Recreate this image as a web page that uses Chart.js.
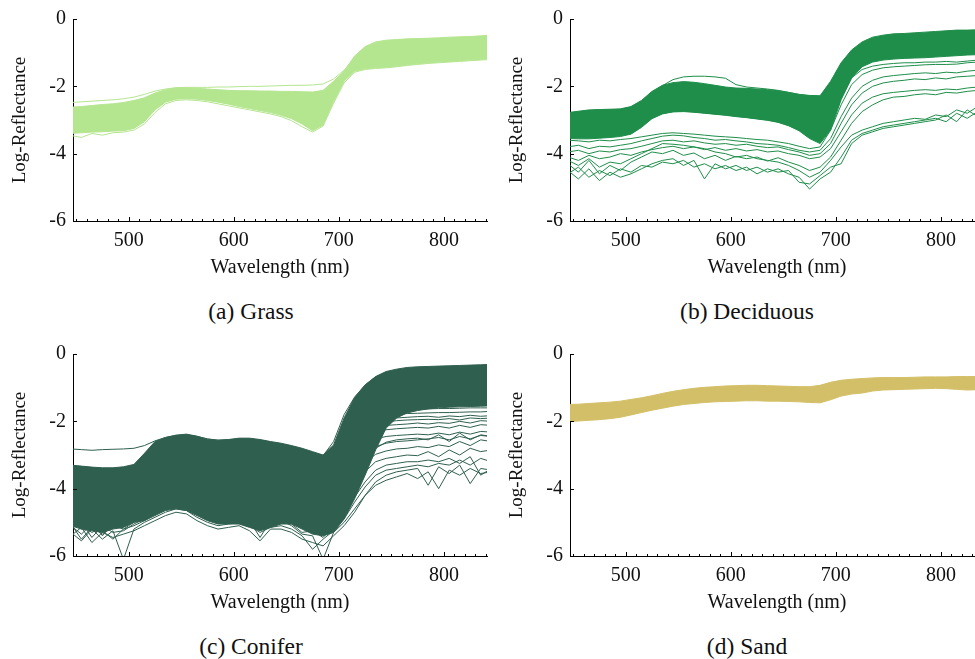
<!DOCTYPE html>
<html>
<head>
<meta charset="utf-8">
<title>Log-reflectance spectra</title>
<script src="https://cdn.jsdelivr.net/npm/chart.js@4.4.1/dist/chart.umd.min.js"></script>
<style>
  html, body { margin: 0; padding: 0; background: #fff; }
  body {
    position: relative; width: 975px; height: 659px; overflow: hidden;
    font-family: 'Liberation Serif', serif;
  }
  canvas { position: absolute; }
  .caption {
    position: absolute; width: 400px; text-align: center;
    font-size: 23.5px; line-height: 28px; color: #111;
  }
</style>
</head>
<body>
<canvas id="grass"     width="490" height="284" style="left:0;top:0"></canvas>
<canvas id="deciduous" width="490" height="284" style="left:497px;top:0"></canvas>
<canvas id="conifer"   width="490" height="284" style="left:0;top:335px"></canvas>
<canvas id="sand"      width="490" height="284" style="left:497px;top:335px"></canvas>

<div class="caption" style="left:51px;top:297px">(a) Grass</div>
<div class="caption" style="left:547px;top:297px">(b) Deciduous</div>
<div class="caption" style="left:51px;top:632px">(c) Conifer</div>
<div class="caption" style="left:547px;top:632px">(d) Sand</div>

<script>
// ━━━━━━━━━━━━━━━━━━━━━━━━━━━━━━━━━━━━━━━━━━━━━━━━━━━━━━━━━━━━━━━━━━━━━━━━
// AXES — wavelength range (nm) and log-reflectance range
// ━━━━━━━━━━━━━━━━━━━━━━━━━━━━━━━━━━━━━━━━━━━━━━━━━━━━━━━━━━━━━━━━━━━━━━━━
const X_MIN = 447, X_MAX = 841;
const X_TICKS = [500, 600, 700, 800];
const MINOR_STEP = 10;              // small inward ticks every 10 nm
const Y_TICKS = [0, -2, -4, -6];

// Sample wavelengths shared by every spectrum below
const WAVELENGTHS = [
  445, 455, 465, 475, 485, 495, 505, 515, 525, 535,
  545, 555, 565, 575, 585, 595, 605, 615, 625, 635,
  645, 655, 665, 675, 685, 695, 705, 715, 725, 735,
  745, 755, 765, 775, 785, 795, 805, 815, 825, 835,
  845
];

// ━━━━━━━━━━━━━━━━━━━━━━━━━━━━━━━━━━━━━━━━━━━━━━━━━━━━━━━━━━━━━━━━━━━━━━━━
// GRASS — dense band (upper / lower edge) plus two stray spectra
// ━━━━━━━━━━━━━━━━━━━━━━━━━━━━━━━━━━━━━━━━━━━━━━━━━━━━━━━━━━━━━━━━━━━━━━━━
const GRASS_UPPER = [
  -2.62, -2.60, -2.57, -2.54, -2.52, -2.48, -2.42, -2.34, -2.20, -2.10,
  -2.05, -2.04, -2.06, -2.08, -2.10, -2.12, -2.13, -2.13, -2.14, -2.14,
  -2.15, -2.15, -2.16, -2.17, -2.12, -1.85, -1.55, -1.10, -0.82, -0.68,
  -0.63, -0.61, -0.59, -0.58, -0.57, -0.56, -0.54, -0.53, -0.52, -0.50,
  -0.48
];
const GRASS_LOWER = [
  -3.40, -3.38, -3.36, -3.35, -3.33, -3.32, -3.25, -3.05, -2.70, -2.47,
  -2.38, -2.37, -2.38, -2.42, -2.47, -2.53, -2.60, -2.66, -2.72, -2.78,
  -2.86, -2.96, -3.12, -3.32, -3.15, -2.45, -1.85, -1.55, -1.48, -1.45,
  -1.43, -1.40, -1.36, -1.33, -1.30, -1.28, -1.26, -1.24, -1.22, -1.20,
  -1.18
];
const GRASS_HIGH = [
  -2.48, -2.46, -2.44, -2.42, -2.40, -2.37, -2.32, -2.24, -2.14, -2.08,
  -2.04, -2.03, -2.03, -2.03, -2.02, -2.02, -2.01, -2.00, -2.00, -1.99,
  -1.98, -1.97, -1.97, -1.96, -1.93, -1.78, -1.52, -1.15, -0.88, -0.74,
  -0.69, -0.66, -0.64, -0.63, -0.62, -0.61, -0.60, -0.59, -0.59, -0.58,
  -0.57
];
const GRASS_LOW = [
  -3.46, -3.52, -3.40, -3.45, -3.38, -3.36, -3.30, -3.12, -2.78, -2.52,
  -2.42, -2.40, -2.42, -2.46, -2.52, -2.58, -2.64, -2.70, -2.76, -2.82,
  -2.90, -3.02, -3.20, -3.36, -3.18, -2.50, -1.90, -1.58, -1.50, -1.47,
  -1.45, -1.42, -1.38, -1.35, -1.32, -1.30, -1.28, -1.26, -1.24, -1.22,
  -1.20
];

// ━━━━━━━━━━━━━━━━━━━━━━━━━━━━━━━━━━━━━━━━━━━━━━━━━━━━━━━━━━━━━━━━━━━━━━━━
// DECIDUOUS — main band plus the darker, noisier spectra below it
// ━━━━━━━━━━━━━━━━━━━━━━━━━━━━━━━━━━━━━━━━━━━━━━━━━━━━━━━━━━━━━━━━━━━━━━━━
const DEC_UPPER = [
  -2.78, -2.74, -2.70, -2.69, -2.68, -2.67, -2.60, -2.42, -2.15, -1.97,
  -1.89, -1.86, -1.88, -1.92, -1.97, -2.02, -2.05, -2.06, -2.08, -2.10,
  -2.13, -2.18, -2.24, -2.27, -2.28, -1.85, -1.30, -0.92, -0.68, -0.54,
  -0.48, -0.44, -0.43, -0.41, -0.39, -0.37, -0.35, -0.33, -0.33, -0.32,
  -0.31
];
const DEC_LOWER = [
  -3.55, -3.56, -3.56, -3.54, -3.52, -3.49, -3.42, -3.22, -2.96, -2.82,
  -2.76, -2.75, -2.77, -2.80, -2.83, -2.86, -2.90, -2.93, -2.97, -3.01,
  -3.07, -3.17, -3.32, -3.55, -3.70, -3.30, -2.40, -1.75, -1.42, -1.28,
  -1.22, -1.19, -1.17, -1.16, -1.15, -1.13, -1.11, -1.09, -1.07, -1.06,
  -1.05
];
const DEC_1 = [
  -2.80, -2.76, -2.72, -2.70, -2.70, -2.68, -2.62, -2.45, -2.18, -1.98,
  -1.80, -1.72, -1.70, -1.70, -1.72, -1.76, -1.95, -2.02, -2.05, -2.08,
  -2.12, -2.18, -2.24, -2.28, -2.30, -1.90, -1.35, -0.95, -0.72, -0.58,
  -0.52, -0.49, -0.47, -0.45, -0.43, -0.41, -0.40, -0.38, -0.37, -0.36,
  -0.36
];
const DEC_2 = [
  -3.50, -3.48, -3.50, -3.46, -3.45, -3.42, -3.35, -3.15, -2.92, -2.80,
  -2.75, -2.74, -2.76, -2.79, -2.82, -2.85, -2.88, -2.92, -2.96, -3.00,
  -3.06, -3.16, -3.30, -3.50, -3.62, -3.20, -2.35, -1.75, -1.50, -1.40,
  -1.35, -1.32, -1.30, -1.30, -1.28, -1.28, -1.26, -1.28, -1.25, -1.22,
  -1.22
];
const DEC_3 = [
  -3.60, -3.62, -3.65, -3.60, -3.62, -3.58, -3.55, -3.50, -3.45, -3.40,
  -3.38, -3.40, -3.42, -3.45, -3.48, -3.50, -3.52, -3.55, -3.58, -3.60,
  -3.65, -3.70, -3.78, -3.85, -3.80, -3.30, -2.55, -1.95, -1.65, -1.52,
  -1.45, -1.42, -1.40, -1.38, -1.36, -1.35, -1.35, -1.34, -1.30, -1.28,
  -1.27
];
const DEC_4 = [
  -3.80, -3.75, -3.85, -3.78, -3.80, -3.75, -3.70, -3.62, -3.55, -3.48,
  -3.45, -3.47, -3.52, -3.55, -3.60, -3.58, -3.62, -3.65, -3.70, -3.72,
  -3.75, -3.82, -3.90, -3.95, -3.90, -3.55, -2.90, -2.35, -2.00, -1.82,
  -1.72, -1.68, -1.65, -1.62, -1.60, -1.62, -1.58, -1.60, -1.55, -1.52,
  -1.50
];
const DEC_5 = [
  -3.95, -3.90, -4.00, -3.92, -3.95, -3.88, -3.85, -3.78, -3.70, -3.62,
  -3.60, -3.65, -3.62, -3.68, -3.72, -3.70, -3.75, -3.72, -3.78, -3.82,
  -3.80, -3.88, -3.95, -4.05, -4.00, -3.70, -3.10, -2.55, -2.20, -2.00,
  -1.90, -1.85, -1.82, -1.78, -1.80, -1.75, -1.78, -1.72, -1.70, -1.68,
  -1.65
];
const DEC_6 = [
  -4.10, -4.20, -4.05, -4.15, -4.10, -4.00, -4.05, -3.95, -3.88, -3.82,
  -3.78, -3.85, -3.80, -3.88, -3.82, -3.90, -3.85, -3.92, -3.88, -3.95,
  -3.92, -4.00, -4.05, -4.15, -4.10, -3.85, -3.35, -2.85, -2.50, -2.32,
  -2.22, -2.18, -2.15, -2.12, -2.10, -2.12, -2.08, -2.10, -2.05, -2.02,
  -2.00
];
const DEC_7 = [
  -4.30, -4.55, -4.20, -4.60, -4.35, -4.50, -4.25, -4.10, -3.95, -4.00,
  -3.90, -4.05, -3.98, -4.15, -4.05, -4.20, -4.08, -4.15, -4.10, -4.22,
  -4.12, -4.25, -4.35, -4.50, -4.40, -4.10, -3.60, -3.10, -2.75, -2.55,
  -2.40, -2.32, -2.30, -2.25, -2.22, -2.25, -2.18, -2.20, -2.15, -2.12,
  -2.10
];
const DEC_8 = [
  -4.50, -4.75, -4.45, -4.80, -4.55, -4.70, -4.60, -4.45, -4.30, -4.20,
  -4.15, -4.35, -4.20, -4.75, -4.30, -4.45, -4.35, -4.50, -4.40, -4.55,
  -4.45, -4.60, -4.70, -5.05, -4.75, -4.55, -4.10, -3.60, -3.40, -3.30,
  -3.20, -3.15, -3.10, -3.05, -3.00, -2.95, -3.05, -2.80, -2.95, -2.75,
  -2.80
];
const DEC_9 = [
  -4.60, -4.40, -4.70, -4.50, -4.65, -4.45, -4.55, -4.35, -4.40, -4.25,
  -4.30, -4.20, -4.40, -4.30, -4.45, -4.35, -4.50, -4.40, -4.60, -4.45,
  -4.55, -4.50, -4.85, -4.90, -4.65, -4.40, -4.30, -3.70, -3.45, -3.35,
  -3.25, -3.20, -3.15, -3.10, -3.05, -3.00, -2.85, -3.05, -2.70, -2.90,
  -2.85
];
const DEC_10 = [
  -4.20, -4.35, -4.15, -4.40, -4.25, -4.30, -4.15, -4.00, -3.85, -3.70,
  -3.72, -3.75, -3.80, -3.85, -3.95, -4.00, -4.10, -4.05, -4.15, -4.20,
  -4.25, -4.35, -4.50, -4.70, -4.55, -4.20, -3.80, -3.45, -3.30, -3.20,
  -3.10, -3.05, -3.00, -2.95, -2.98, -2.85, -2.90, -2.70, -2.80, -2.60,
  -2.65
];

// ━━━━━━━━━━━━━━━━━━━━━━━━━━━━━━━━━━━━━━━━━━━━━━━━━━━━━━━━━━━━━━━━━━━━━━━━
// CONIFER — wide band, one bright stray and a fan of dark spectra
// ━━━━━━━━━━━━━━━━━━━━━━━━━━━━━━━━━━━━━━━━━━━━━━━━━━━━━━━━━━━━━━━━━━━━━━━━
const CON_UPPER = [
  -3.30, -3.33, -3.36, -3.38, -3.38, -3.35, -3.28, -2.95, -2.60, -2.48,
  -2.41, -2.38, -2.44, -2.53, -2.56, -2.54, -2.50, -2.50, -2.54, -2.60,
  -2.65, -2.72, -2.80, -2.90, -3.00, -2.70, -1.90, -1.30, -0.92, -0.67,
  -0.52, -0.45, -0.40, -0.38, -0.37, -0.36, -0.35, -0.34, -0.33, -0.32,
  -0.31
];
const CON_LOWER = [
  -5.10, -5.20, -5.25, -5.30, -5.20, -5.15, -5.00, -4.95, -4.80, -4.65,
  -4.60, -4.65, -4.80, -4.95, -5.05, -5.05, -5.05, -5.15, -5.25, -5.15,
  -5.05, -5.05, -5.20, -5.35, -5.40, -5.30, -4.90, -4.30, -3.60, -2.85,
  -2.20, -1.90, -1.75, -1.68, -1.63, -1.60, -1.58, -1.57, -1.56, -1.55,
  -1.54
];
const CON_0 = [
  -2.82, -2.84, -2.86, -2.84, -2.83, -2.82, -2.80, -2.72, -2.58, -2.48,
  -2.42, -2.40, -2.45, -2.52, -2.56, -2.55, -2.52, -2.52, -2.56, -2.62,
  -2.68, -2.75, -2.83, -2.92, -3.02, -2.60, -1.80, -1.28, -0.92, -0.68,
  -0.55, -0.48, -0.44, -0.42, -0.41, -0.40, -0.39, -0.38, -0.38, -0.37,
  -0.37
];
const CON_1 = [
  -4.00, -4.05, -4.10, -4.08, -4.05, -4.00, -3.90, -3.60, -3.30, -3.15,
  -3.10, -3.12, -3.25, -3.38, -3.45, -3.45, -3.42, -3.45, -3.50, -3.58,
  -3.62, -3.68, -3.78, -3.90, -3.98, -3.55, -2.80, -2.25, -1.98, -1.85,
  -1.80, -1.78, -1.77, -1.76, -1.75, -1.74, -1.74, -1.73, -1.72, -1.72,
  -1.70
];
const CON_2 = [
  -4.20, -4.25, -4.30, -4.28, -4.25, -4.20, -4.10, -3.85, -3.55, -3.40,
  -3.35, -3.38, -3.50, -3.62, -3.70, -3.72, -3.70, -3.72, -3.78, -3.85,
  -3.90, -3.95, -4.05, -4.15, -4.20, -3.80, -3.10, -2.55, -2.25, -2.08,
  -2.02, -1.98, -1.96, -1.95, -1.94, -1.95, -1.92, -1.96, -1.90, -1.92,
  -1.90
];
const CON_3 = [
  -4.40, -4.50, -4.45, -4.55, -4.45, -4.40, -4.30, -4.05, -3.80, -3.65,
  -3.60, -3.62, -3.75, -3.88, -3.95, -3.95, -3.92, -3.95, -4.00, -4.05,
  -4.10, -4.15, -4.25, -4.35, -4.40, -4.05, -3.40, -2.85, -2.50, -2.32,
  -2.25, -2.22, -2.20, -2.18, -2.20, -2.15, -2.20, -2.12, -2.18, -2.10,
  -2.12
];
const CON_4 = [
  -4.60, -4.70, -4.65, -4.75, -4.60, -4.55, -4.45, -4.25, -4.00, -3.88,
  -3.82, -3.85, -3.95, -4.05, -4.12, -4.15, -4.10, -4.15, -4.22, -4.25,
  -4.30, -4.35, -4.45, -4.55, -4.60, -4.30, -3.70, -3.10, -2.72, -2.52,
  -2.45, -2.42, -2.40, -2.38, -2.40, -2.35, -2.40, -2.32, -2.38, -2.30,
  -2.32
];
const CON_5 = [
  -4.80, -4.90, -4.85, -5.00, -4.85, -4.80, -4.65, -4.45, -4.25, -4.10,
  -4.05, -4.08, -4.20, -4.30, -4.40, -4.38, -4.35, -4.42, -4.50, -4.48,
  -4.55, -4.60, -4.70, -4.80, -4.85, -4.60, -4.00, -3.40, -2.98, -2.75,
  -2.65, -2.60, -2.58, -2.55, -2.52, -2.48, -2.55, -2.45, -2.52, -2.42,
  -2.45
];
const CON_6 = [
  -5.00, -5.20, -4.95, -5.40, -5.05, -5.10, -4.90, -4.70, -4.50, -4.35,
  -4.25, -4.30, -4.45, -4.55, -4.65, -4.60, -4.55, -4.70, -4.80, -4.70,
  -4.75, -4.85, -5.00, -5.10, -5.15, -4.85, -4.30, -3.70, -3.22, -2.98,
  -2.88, -2.82, -2.80, -2.75, -2.78, -2.70, -2.75, -2.60, -2.72, -2.55,
  -2.60
];
const CON_7 = [
  -5.20, -5.00, -5.45, -5.10, -5.30, -5.25, -5.05, -4.90, -4.70, -4.55,
  -4.45, -4.50, -4.65, -4.80, -4.90, -4.85, -4.80, -4.95, -5.45, -4.95,
  -5.00, -5.05, -5.30, -5.25, -5.45, -5.10, -4.60, -4.00, -3.50, -3.20,
  -3.10, -3.05, -3.00, -3.02, -2.90, -3.05, -2.85, -3.00, -2.80, -2.90,
  -2.85
];
const CON_8 = [
  -5.30, -5.55, -5.20, -5.50, -5.25, -6.10, -5.20, -5.00, -4.85, -4.70,
  -4.60, -4.65, -4.85, -5.00, -5.10, -5.05, -5.00, -5.10, -5.30, -5.15,
  -5.10, -5.20, -5.40, -5.80, -5.50, -5.25, -4.90, -4.40, -3.95, -3.60,
  -3.45, -3.40, -3.35, -3.30, -3.35, -3.25, -3.30, -3.15, -3.30, -3.10,
  -3.20
];
const CON_9 = [
  -5.10, -5.35, -5.05, -5.25, -5.50, -5.20, -5.10, -4.95, -4.75, -4.60,
  -4.50, -4.55, -4.70, -4.90, -5.00, -4.95, -4.90, -5.05, -5.20, -5.05,
  -4.95, -5.10, -5.35, -5.40, -6.10, -5.30, -5.00, -4.60, -4.20, -3.90,
  -3.75, -3.65, -3.55, -3.70, -3.50, -4.00, -3.45, -3.60, -3.40, -3.55,
  -3.50
];
const CON_10 = [
  -4.95, -5.10, -5.30, -5.15, -5.05, -5.00, -4.95, -4.85, -4.60, -4.45,
  -4.40, -4.45, -4.60, -4.75, -4.85, -4.80, -4.75, -4.85, -5.00, -4.90,
  -4.85, -4.95, -5.15, -5.25, -5.30, -5.05, -4.70, -4.25, -3.80, -3.45,
  -3.30, -3.25, -3.20, -3.20, -3.15, -3.20, -3.10, -3.25, -3.05, -3.60,
  -3.40
];
const CON_11 = [
  -3.90, -3.95, -3.98, -3.96, -3.95, -3.90, -3.80, -3.50, -3.20, -3.05,
  -3.00, -3.02, -3.15, -3.28, -3.35, -3.35, -3.32, -3.35, -3.40, -3.48,
  -3.52, -3.58, -3.68, -3.80, -3.88, -3.45, -2.70, -2.15, -1.88, -1.74,
  -1.68, -1.66, -1.65, -1.64, -1.63, -1.62, -1.62, -1.61, -1.60, -1.60,
  -1.60
];
const CON_12 = [
  -4.10, -4.15, -4.20, -4.18, -4.15, -4.10, -4.00, -3.75, -3.45, -3.30,
  -3.25, -3.28, -3.40, -3.52, -3.60, -3.62, -3.60, -3.62, -3.68, -3.75,
  -3.80, -3.85, -3.95, -4.05, -4.10, -3.70, -2.95, -2.40, -2.12, -1.98,
  -1.92, -1.90, -1.88, -1.86, -1.85, -1.88, -1.84, -1.86, -1.82, -1.85,
  -1.83
];
const CON_13 = [
  -4.30, -4.38, -4.36, -4.42, -4.35, -4.30, -4.20, -3.95, -3.68, -3.52,
  -3.48, -3.50, -3.62, -3.75, -3.82, -3.85, -3.82, -3.85, -3.90, -3.95,
  -4.00, -4.05, -4.15, -4.25, -4.30, -3.95, -3.25, -2.70, -2.38, -2.20,
  -2.12, -2.10, -2.08, -2.05, -2.08, -2.04, -2.06, -2.00, -2.05, -1.98,
  -2.00
];
const CON_14 = [
  -5.05, -5.50, -5.15, -5.35, -5.10, -5.20, -5.00, -4.80, -4.60, -4.40,
  -4.35, -4.40, -4.55, -4.70, -4.75, -4.70, -4.65, -4.80, -5.00, -4.85,
  -4.85, -4.95, -5.10, -5.20, -5.25, -4.95, -4.45, -3.75, -3.10, -2.80,
  -2.62, -2.55, -2.52, -2.50, -2.55, -2.40, -2.60, -2.35, -2.55, -2.40,
  -2.45
];
const CON_15 = [
  -5.40, -5.15, -5.60, -5.30, -5.45, -5.35, -5.25, -5.10, -4.95, -4.80,
  -4.70, -4.75, -4.95, -5.10, -5.20, -5.15, -5.10, -5.25, -5.55, -5.20,
  -5.20, -5.30, -5.50, -5.60, -5.70, -5.40, -5.10, -4.70, -4.20, -3.80,
  -3.60, -3.50, -3.45, -3.40, -3.90, -3.35, -3.55, -3.30, -3.85, -3.40,
  -3.45
];

// ━━━━━━━━━━━━━━━━━━━━━━━━━━━━━━━━━━━━━━━━━━━━━━━━━━━━━━━━━━━━━━━━━━━━━━━━
// SAND — one tight band
// ━━━━━━━━━━━━━━━━━━━━━━━━━━━━━━━━━━━━━━━━━━━━━━━━━━━━━━━━━━━━━━━━━━━━━━━━
const SAND_UPPER = [
  -1.50, -1.49, -1.47, -1.45, -1.43, -1.40, -1.35, -1.30, -1.24, -1.17,
  -1.11, -1.06, -1.02, -0.99, -0.97, -0.95, -0.94, -0.93, -0.93, -0.94,
  -0.95, -0.96, -0.97, -0.97, -0.93, -0.84, -0.78, -0.75, -0.73, -0.71,
  -0.70, -0.70, -0.70, -0.69, -0.68, -0.68, -0.68, -0.67, -0.67, -0.67,
  -0.66
];
const SAND_LOWER = [
  -2.01, -1.99, -1.97, -1.95, -1.92, -1.88, -1.81, -1.74, -1.67, -1.61,
  -1.55, -1.50, -1.47, -1.44, -1.42, -1.41, -1.40, -1.39, -1.39, -1.40,
  -1.40, -1.41, -1.42, -1.44, -1.45, -1.36, -1.25, -1.19, -1.16, -1.10,
  -1.07, -1.06, -1.05, -1.04, -1.03, -1.02, -1.03, -1.05, -1.07, -1.06,
  -1.05
];

// ━━━━━━━━━━━━━━━━━━━━━━━━━━━━━━━━━━━━━━━━━━━━━━━━━━━━━━━━━━━━━━━━━━━━━━━━
// STYLE
// ━━━━━━━━━━━━━━━━━━━━━━━━━━━━━━━━━━━━━━━━━━━━━━━━━━━━━━━━━━━━━━━━━━━━━━━━
const FONT = "'Liberation Serif', serif";
const TEXT = '#111';

const PANELS = [
  { id: 'grass',     color: '#b4e58f', band: [GRASS_UPPER, GRASS_LOWER],
    lines: [GRASS_HIGH, GRASS_LOW] },
  { id: 'deciduous', color: '#1e8e4a', band: [DEC_UPPER, DEC_LOWER],
    lines: [DEC_1, DEC_2, DEC_3, DEC_4, DEC_5, DEC_6, DEC_7, DEC_8, DEC_9, DEC_10] },
  { id: 'conifer',   color: '#2f5f4f', band: [CON_UPPER, CON_LOWER],
    lines: [CON_0, CON_1, CON_2, CON_3, CON_4, CON_5, CON_6, CON_7, CON_8,
            CON_9, CON_10, CON_11, CON_12, CON_13, CON_14, CON_15] },
  { id: 'sand',      color: '#d3bf67', band: [SAND_UPPER, SAND_LOWER],
    lines: [] },
];

// Pair each value with its wavelength
function toPoints(values) {
  return values.map((v, i) => ({ x: WAVELENGTHS[i], y: v }));
}

function spectrum(values, color) {
  return {
    data: toPoints(values),
    borderColor: color,
    borderWidth: 1,
    pointRadius: 0,
    tension: 0,
    fill: false,
  };
}

// Inward tick marks: minor every 10 nm on x, short stubs on y
const innerTicks = {
  id: 'innerTicks',
  afterDraw(chart) {
    const { ctx, chartArea: a, scales: { x, y } } = chart;
    ctx.save();
    ctx.strokeStyle = '#000';
    ctx.lineWidth = 1;
    ctx.beginPath();
    for (let nm = Math.ceil(X_MIN / MINOR_STEP) * MINOR_STEP; nm <= X_MAX; nm += MINOR_STEP) {
      const px = Math.round(x.getPixelForValue(nm)) + 0.5;
      const len = nm % 100 === 0 ? 4 : 2;
      ctx.moveTo(px, a.bottom);
      ctx.lineTo(px, a.bottom - len);
    }
    for (const v of Y_TICKS) {
      const py = Math.round(y.getPixelForValue(v)) + 0.5;
      ctx.moveTo(a.left, py);
      ctx.lineTo(a.left + 4, py);
    }
    ctx.stroke();
    ctx.restore();
  }
};

function buildChart(p) {
  const [upper, lower] = p.band;
  const datasets = [
    spectrum(upper, p.color),
    Object.assign(spectrum(lower, p.color), { fill: '-1', backgroundColor: p.color }),
    ...p.lines.map(l => spectrum(l, p.color)),
  ];

  new Chart(document.getElementById(p.id), {
    type: 'line',
    data: { datasets },
    plugins: [innerTicks],
    options: {
      responsive: false,
      animation: false,
      devicePixelRatio: 1,
      layout: { padding: { top: 15, right: 3, left: 0, bottom: 0 } },
      plugins: { legend: { display: false }, tooltip: { enabled: false } },
      scales: {
        x: {
          type: 'linear',
          min: X_MIN,
          max: X_MAX,
          afterBuildTicks: s => { s.ticks = X_TICKS.map(v => ({ value: v })); },
          afterFit: s => { s.height = 63; },
          grid: { display: false, drawTicks: false },
          border: { display: true, color: '#000', width: 1 },
          ticks: { color: TEXT, font: { family: FONT, size: 20 }, padding: 8, maxRotation: 0, autoSkip: false },
          title: {
            display: true, text: 'Wavelength (nm)', color: TEXT,
            font: { family: FONT, size: 20 }, padding: { top: 0, bottom: 4 }
          }
        },
        y: {
          type: 'linear',
          min: -6,
          max: 0,
          afterBuildTicks: s => { s.ticks = Y_TICKS.map(v => ({ value: v })); },
          afterFit: s => { s.width = 73; },
          grid: { display: false, drawTicks: false },
          border: { display: true, color: '#000', width: 1 },
          ticks: { color: TEXT, font: { family: FONT, size: 20 }, padding: 7, callback: v => String(v) },
          title: {
            display: true, text: 'Log-Reflectance', color: TEXT,
            font: { family: FONT, size: 19 }, padding: { top: 9, bottom: 0 }
          }
        }
      }
    }
  });
}

PANELS.forEach(buildChart);
</script>
</body>
</html>
